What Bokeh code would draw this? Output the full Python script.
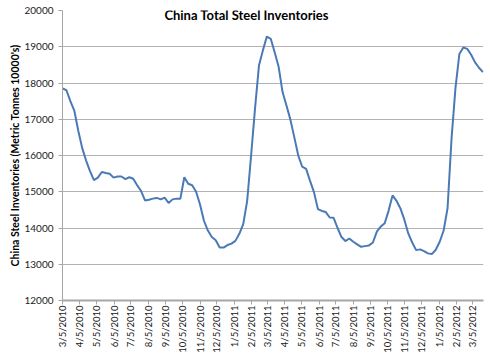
import math
import pandas as pd
from bokeh.plotting import figure
from bokeh.models import (ColumnDataSource, FixedTicker, Range1d, Label)
from bokeh.embed import file_html
from bokeh.resources import INLINE

# ---- data (weekly) ----
start_date = "2010-03-05"
inventories = [
    17850, 17800, 17500, 17240, 16690, 16210, 15860, 15570, 15320, 15390,
    15545, 15515, 15495, 15390, 15420, 15420, 15350, 15400, 15360, 15180,
    15020, 14760, 14780, 14810, 14830, 14790, 14840, 14690, 14790, 14810,
    14810, 15400, 15220, 15180, 15000, 14650, 14200, 13930, 13750, 13660,
    13460, 13460, 13530, 13570, 13645, 13840, 14105, 14750, 16000, 17300,
    18480, 18900, 19280, 19220, 18850, 18450, 17750, 17380, 16990, 16500,
    16000, 15690, 15630, 15300, 14990, 14520, 14470, 14440, 14290, 14280,
    14000, 13750, 13640, 13710, 13620, 13550, 13480, 13500, 13520, 13600,
    13900, 14040, 14130, 14480, 14900, 14750, 14540, 14230, 13850, 13600,
    13390, 13410, 13360, 13300, 13280, 13400, 13620, 13930, 14550, 16450,
    17850, 18800, 18980, 18940, 18780, 18570, 18420, 18300,
]
tick_labels = [
    "3/5/2010", "4/5/2010", "5/5/2010", "6/5/2010", "7/5/2010", "8/5/2010",
    "9/5/2010", "10/5/2010", "11/5/2010", "12/5/2010", "1/5/2011", "2/5/2011",
    "3/5/2011", "4/5/2011", "5/5/2011", "6/5/2011", "7/5/2011", "8/5/2011",
    "9/5/2011", "10/5/2011", "11/5/2011", "12/5/2011", "1/5/2012", "2/5/2012",
    "3/5/2012",
]
y_ticks = [12000, 13000, 14000, 15000, 16000, 17000, 18000, 19000, 20000]
title_text = "China Total Steel Inventories"
y_title = "China Steel Inventories (Metric Tonnes 10000's)"

dates = pd.date_range(start_date, periods=len(inventories), freq="7D")
src = ColumnDataSource(dict(date=dates, value=inventories))

def ms(d):
    return pd.Timestamp(d).value // 10**6

tick_dates = [pd.to_datetime(t, format="%m/%d/%Y") for t in tick_labels]
tick_ms = [ms(d) for d in tick_dates]

FONT = "Lato"

p = figure(width=490, height=356, x_axis_type="datetime",
           output_backend="svg", toolbar_location=None,
           min_border_left=62, min_border_right=7,
           min_border_top=10, min_border_bottom=56)
p.x_range = Range1d(ms(dates[0]), ms(dates[-1] + pd.Timedelta(days=1)))
p.y_range = Range1d(12000, 20000)

p.line("date", "value", source=src, line_color="#4A7AB5", line_width=2)

p.outline_line_color = None
p.background_fill_color = "white"
p.border_fill_color = "white"

# grid
p.xgrid.grid_line_color = None
p.ygrid.grid_line_color = "#b3b3b3"
p.ygrid.grid_line_width = 1

# x axis
xa = p.xaxis[0]
xa.ticker = FixedTicker(ticks=tick_ms)
xa.major_label_overrides = {t: lab for t, lab in zip(tick_ms, tick_labels)}
xa.major_label_orientation = math.pi / 2
xa.major_label_text_font = FONT
xa.major_label_text_font_size = "9.5px"
xa.major_label_text_color = "#222222"
xa.major_label_standoff = 1
xa.axis_line_color = "#a6a6a6"
xa.axis_line_width = 2
xa.major_tick_line_color = "#a6a6a6"
xa.major_tick_out = 4
xa.major_tick_in = 0
xa.minor_tick_line_color = None

# y axis
ya = p.yaxis[0]
ya.ticker = FixedTicker(ticks=y_ticks)
ya.major_label_text_font = FONT
ya.major_label_text_font_size = "10px"
ya.major_label_text_color = "#222222"
ya.major_label_standoff = 5
ya.axis_line_color = "#a6a6a6"
ya.major_tick_line_color = "#a6a6a6"
ya.major_tick_out = 4
ya.major_tick_in = 0
ya.minor_tick_line_color = None
ya.axis_label = y_title
ya.axis_label_text_font = FONT
ya.axis_label_text_font_style = "bold"
ya.axis_label_text_font_size = "10.5px"
ya.axis_label_text_color = "#000000"
ya.axis_label_standoff = 0

# title inside the plot area
title_x = ms(dates[0] + pd.Timedelta(days=328))
p.add_layout(Label(x=title_x, y=19876, text=title_text,
                   text_font=FONT, text_font_style="bold",
                   text_font_size="13px", text_align="center",
                   text_baseline="middle", text_color="#000000"))

open("out.html", "w").write(file_html(p, INLINE))
